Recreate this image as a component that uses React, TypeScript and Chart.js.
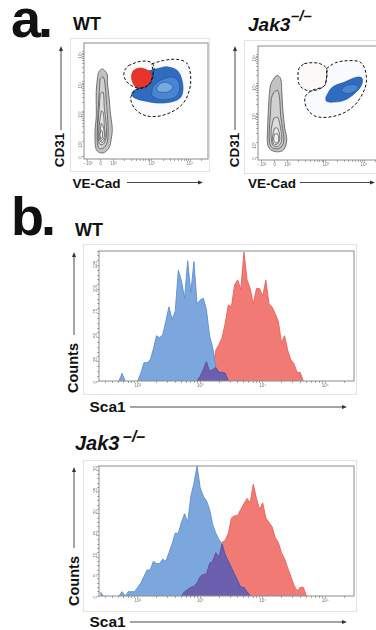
import React, { useEffect, useRef } from 'react';
import { Chart, registerables } from 'chart.js';
Chart.register(...registerables);

const FONT = '"Liberation Sans", Arial, Helvetica, sans-serif';

// ---------- Panel b: Sca1 histograms (log10 Sca1 bin positions) ----------
const sca1Bins = [
  1.40, 1.45, 1.50, 1.55, 1.60, 1.65, 1.70, 1.75, 1.80, 1.85,
  1.90, 1.95, 2.00, 2.05, 2.10, 2.15, 2.20, 2.25, 2.30, 2.35,
  2.40, 2.45, 2.50, 2.55, 2.60, 2.65, 2.70, 2.75, 2.80, 2.85,
  2.90, 2.95, 3.00, 3.05, 3.10, 3.15, 3.20, 3.25, 3.30, 3.35,
  3.40, 3.45, 3.50, 3.55, 3.60, 3.65, 3.70, 3.75, 3.80, 3.85,
  3.90, 3.95, 4.00, 4.05, 4.10, 4.15, 4.20, 4.25, 4.30, 4.35,
  4.40, 4.45, 4.50, 4.55, 4.60, 4.65, 4.70, 4.75,
];
// WT counts
const wtSca1Neg = [
  0, 0, 0, 0, 0, 0, 0, 8, 0, 0,
  0, 0, 0, 8, 19, 19, 22, 33, 47, 45,
  48, 62, 77, 64, 72, 115, 104, 86, 125, 92,
  124, 80, 84, 86, 74, 47, 35, 14, 9, 9,
  8, 0, 0, 0, 0, 0, 0, 0, 0, 0,
  0, 0, 0, 0, 0, 0, 0, 0, 0, 0,
  0, 0, 0, 0, 0, 0, 0, 0,
];
const wtSca1Pos = [
  0, 0, 0, 0, 0, 0, 0, 0, 0, 0,
  0, 0, 0, 0, 0, 0, 0, 0, 0, 0,
  0, 0, 0, 0, 0, 0, 0, 0, 0, 0,
  0, 0, 5, 12, 20, 10, 12, 32, 38, 45,
  60, 79, 77, 100, 105, 95, 134, 105, 96, 80,
  96, 96, 88, 105, 80, 77, 70, 62, 40, 47,
  32, 22, 18, 9, 9, 0, 0, 0,
];
// Jak3-/- counts
const jakSca1Neg = [
  1, 0, 0, 0, 0, 0, 0, 1, 0, 1,
  1, 1, 2, 3, 4.5, 6, 6, 8, 7.5, 7.5,
  8.5, 8, 10, 12, 14.5, 14.5, 17, 19, 17, 23,
  26, 30, 25, 23, 22, 20, 16.5, 14.5, 13, 12,
  9.5, 8, 6.5, 5, 3.5, 2, 2, 1, 0, 0,
  0, 0, 0, 0, 0, 0, 0, 0, 0, 0,
  0, 0, 0, 0, 0, 0, 0, 0,
];
const jakSca1Pos = [
  0, 0, 0, 0, 0, 0, 0, 0, 0, 0,
  0, 0, 0, 0, 0, 0, 0, 0, 0, 0,
  0, 0, 0, 0, 0, 0, 0, 1, 1.5, 2,
  2.2, 3, 4.5, 5, 5, 7.5, 8, 10, 9, 12.4,
  12.8, 14.5, 18, 18.5, 18.6, 20, 21.3, 22.5, 21.5, 25.8,
  22.5, 20, 21.5, 18, 17, 16, 13.5, 12.4, 10, 8.6,
  6.5, 4.5, 2.5, 1.2, 2, 2, 0, 0,
];
const histDecades = [2, 3, 4, 5];
const histDecadeLabels = ['10²', '10³', '10⁴', '10⁵'];
const wtCountTicks = [0, 25, 50, 75, 100, 125];
const jakCountTicks = [0, 5, 10, 15, 20, 25, 30];

// ---------- Panel a: CD31 vs VE-Cad contour plots (display units ~ decades) ----------
const veCadTickValues = [1.33, 1.67, 2, 3, 4];
const veCadTickLabels = ['−10²', '0', '10²', '10³', '10⁴'];
const cd31TickValues = [1.49, 2, 3, 4, 5];
const cd31TickLabels = ['0', '10²', '10³', '10⁴', '10⁵'];

type P = [number, number];
const wtGrayLevels: P[][] = [
  [[1.63,4.36],[1.71,4.43],[1.78,4.36],[1.84,4.23],[1.84,4.02],[1.86,3.75],[1.89,3.41],[1.91,3.07],[1.94,2.74],[1.97,2.40],[1.94,2.06],[1.89,1.79],[1.76,1.62],[1.63,1.62],[1.55,1.72],[1.52,1.99],[1.52,2.40],[1.55,2.80],[1.55,3.24],[1.55,3.68],[1.58,4.09],[1.60,4.26]],
  [[1.65,4.09],[1.73,4.16],[1.78,3.92],[1.81,3.41],[1.84,2.91],[1.86,2.40],[1.84,1.99],[1.76,1.79],[1.63,1.75],[1.58,1.96],[1.58,2.46],[1.60,3.07],[1.63,3.69]],
  [[1.65,3.58],[1.73,3.65],[1.76,3.14],[1.81,2.57],[1.81,2.13],[1.73,1.89],[1.63,1.92],[1.60,2.23],[1.60,2.67],[1.63,3.14]],
  [[1.68,3.01],[1.73,2.97],[1.76,2.53],[1.78,2.13],[1.71,1.96],[1.63,2.06],[1.63,2.53]],
  [[1.68,2.60],[1.73,2.50],[1.76,2.16],[1.68,2.02],[1.65,2.23]],
  [[1.68,2.36],[1.71,2.33],[1.71,2.13],[1.68,2.09],[1.65,2.23]],
];
const wtBlueLevels: P[][] = [
  [[2.82,4.33],[3.21,4.46],[3.40,4.50],[3.68,4.36],[3.81,3.92],[3.78,3.52],[3.60,3.35],[3.21,3.28],[2.82,3.35],[2.53,3.47],[2.48,3.62],[2.64,3.79],[2.80,3.89],[2.88,4.09]],
  [[3.00,3.53],[3.04,3.84],[3.30,4.09],[3.56,4.15],[3.71,3.98],[3.69,3.58],[3.47,3.41],[3.17,3.41]],
  [[3.13,3.78],[3.20,3.92],[3.36,3.98],[3.51,3.90],[3.55,3.80],[3.45,3.67],[3.28,3.64],[3.16,3.68]],
];
const wtRedBlob: P[] = [[2.51,4.36],[2.64,4.45],[2.82,4.43],[2.95,4.33],[3.01,4.16],[2.95,3.96],[2.85,3.82],[2.69,3.79],[2.56,3.85],[2.49,4.02],[2.47,4.19]];
const wtGateRed: P[] = [[2.39,4.54],[2.69,4.68],[2.97,4.66],[3.06,4.49],[3.02,4.20],[2.94,3.92],[2.74,3.78],[2.48,3.86],[2.30,4.09],[2.28,4.34]];
const wtGateBlue: P[] = [[3.00,4.60],[3.30,4.71],[3.65,4.75],[3.91,4.63],[4.01,4.26],[3.99,3.75],[3.80,3.24],[3.39,2.91],[2.95,2.83],[2.61,3.02],[2.45,3.41],[2.56,3.70],[2.78,3.81],[2.94,3.92],[3.04,4.20]];

const jakGrayLevels: P[][] = [
  [[1.61,4.12],[1.72,4.29],[1.82,4.19],[1.85,3.78],[1.88,3.10],[1.93,2.49],[1.98,2.08],[1.90,1.75],[1.74,1.68],[1.56,1.75],[1.48,1.95],[1.48,2.42],[1.50,3.10],[1.53,3.71],[1.56,3.98]],
  [[1.64,3.71],[1.74,3.78],[1.80,3.44],[1.82,2.93],[1.88,2.42],[1.90,2.02],[1.80,1.81],[1.61,1.81],[1.53,2.02],[1.53,2.49],[1.56,3.10],[1.58,3.51]],
  [[1.64,2.83],[1.74,2.86],[1.82,2.49],[1.85,2.08],[1.77,1.88],[1.64,1.88],[1.58,2.08],[1.58,2.49]],
  [[1.66,2.49],[1.74,2.49],[1.80,2.15],[1.74,1.95],[1.64,1.95],[1.61,2.19]],
  [[1.66,2.29],[1.74,2.29],[1.77,2.08],[1.72,1.98],[1.66,2.02],[1.64,2.12]],
];
const jakBlueLevels: P[][] = [
  [[3.00,3.55],[3.17,3.89],[3.48,4.06],[3.80,4.23],[3.95,4.20],[3.93,3.95],[3.75,3.67],[3.48,3.44],[3.22,3.38],[3.02,3.41]],
  [[3.40,3.78],[3.50,3.92],[3.68,3.98],[3.82,3.95],[3.84,3.85],[3.72,3.72],[3.52,3.68]],
];
const jakGateRed: P[] = [[2.44,4.70],[2.65,4.73],[2.86,4.69],[3.02,4.53],[3.02,4.19],[2.95,3.92],[2.60,3.76],[2.35,3.90],[2.28,4.12],[2.30,4.53]];
const jakGateBlue: P[] = [[3.02,4.53],[3.26,4.73],[3.66,4.80],[3.93,4.72],[4.06,4.29],[4.02,3.84],[3.75,3.27],[3.31,2.93],[2.77,2.88],[2.51,3.16],[2.46,3.55],[2.64,3.78],[2.95,3.92],[3.02,4.19]];

// ---------- colours ----------
const GRAY_FILLS = ['#c2c2c2', '#d0d0d0', '#dcdcdc', '#e7e7e7', '#f1f1f1', '#fafafa'];
const BLUE_FILLS = ['#2f6cc0', '#4a86d0', '#78a8e0'];
const HIST_BLUE = '#7ca7dc';
const HIST_RED = '#f17b74';
const HIST_PURPLE = '#6c5fae';

// ---------- helpers ----------
function logMinors(from: number, to: number): number[] {
  const out: number[] = [];
  for (let d = Math.floor(from); d <= to; d++) {
    for (let k = 2; k <= 9; k++) {
      const v = d + Math.log10(k);
      if (v > from && v < to) out.push(v);
    }
  }
  return out;
}

function labelFor(values: number[], labels: string[]) {
  return (v: number) => {
    const i = values.findIndex((m) => Math.abs(m - v) < 1e-6);
    return i >= 0 ? labels[i] : '';
  };
}

const framePlugin = {
  id: 'frame',
  afterDatasetsDraw(chart: any) {
    const { ctx, chartArea: a } = chart;
    ctx.save();
    ctx.strokeStyle = '#8c8c8c';
    ctx.lineWidth = 1;
    ctx.strokeRect(a.left, a.top, a.right - a.left, a.bottom - a.top);
    ctx.restore();
  },
};

function polyDataset(points: P[], fill: string | null, stroke: string | null, width: number, dash: number[] = []) {
  const data = points.map(([x, y]) => ({ x, y }));
  data.push({ x: points[0][0], y: points[0][1] });
  return {
    type: 'line',
    data,
    showLine: true,
    fill: fill ? 'shape' : false,
    backgroundColor: fill || 'transparent',
    borderColor: stroke || 'transparent',
    borderWidth: stroke ? width : 0,
    borderDash: dash,
    pointRadius: 0,
    tension: 0.35,
  };
}

function axisCommon(size = 4.5) {
  return {
    font: { size, family: FONT },
    color: '#777',
    autoSkip: false,
  };
}

function contourConfig(gray: P[][], blue: P[][], red: P[] | null, gateRed: P[], gateBlue: P[], pad: any, xH: number) {
  const layers: any[] = [];
  layers.push(polyDataset(gateBlue, 'rgba(175,200,238,0.08)', null, 0));
  layers.push(polyDataset(gateRed, 'rgba(240,175,175,0.07)', null, 0));
  gray.forEach((lv, i) => layers.push(polyDataset(lv, GRAY_FILLS[i], '#555', 0.8)));
  blue.forEach((lv, i) => layers.push(polyDataset(lv, BLUE_FILLS[i], '#1f4f98', 0.6)));
  if (red) layers.push(polyDataset(red, '#e8342b', '#c0281f', 0.6));
  layers.push(polyDataset(gateRed, null, '#111', 1, [3, 2]));
  layers.push(polyDataset(gateBlue, null, '#111', 1, [3, 2]));
  const datasets = layers.reverse();
  const xMinors = logMinors(2, 4.47);
  const yMinors = logMinors(2, 5.3);
  return {
    type: 'scatter',
    data: { datasets },
    plugins: [framePlugin],
    options: {
      responsive: false,
      animation: false,
      events: [],
      layout: { padding: pad },
      plugins: { legend: { display: false }, tooltip: { enabled: false } },
      scales: {
        x: {
          type: 'linear', min: 1.23, max: 4.47,
          afterBuildTicks: (s: any) => { s.ticks = [...veCadTickValues, ...xMinors].sort((a, b) => a - b).map((value) => ({ value })); },
          afterFit: (s: any) => { s.height = xH; },
          ticks: { ...axisCommon(4.5), maxRotation: 0, minRotation: 0, padding: 0, callback: labelFor(veCadTickValues, veCadTickLabels) },
          grid: { drawOnChartArea: false, drawTicks: true, tickLength: 2, color: '#888', lineWidth: 0.7 },
          border: { display: false },
        },
        y: {
          type: 'linear', min: 1.40, max: 5.30,
          afterBuildTicks: (s: any) => { s.ticks = [...cd31TickValues, ...yMinors].sort((a, b) => a - b).map((value) => ({ value })); },
          afterFit: (s: any) => { s.width = 14; },
          ticks: { ...axisCommon(4.5), minRotation: 90, maxRotation: 90, padding: 1, callback: labelFor(cd31TickValues, cd31TickLabels) },
          grid: { drawOnChartArea: false, drawTicks: true, tickLength: 2, color: '#888', lineWidth: 0.7 },
          border: { display: false },
        },
      },
    },
  };
}

function histConfig(neg: number[], pos: number[], yMax: number, yMajor: number[], yMinorStep: number, pad: any, xH: number) {
  const toXY = (arr: number[]) => arr.map((y, i) => ({ x: sca1Bins[i], y }));
  const overlap = neg.map((v, i) => Math.min(v, pos[i]));
  const hideZero = { borderColor: (c: any) => (c.p0.parsed.y === 0 && c.p1.parsed.y === 0 ? 'transparent' : undefined) };
  const ds = (arr: number[], fill: string, line: string) => ({
    data: toXY(arr), fill: 'origin', backgroundColor: fill, borderColor: line, borderWidth: 0.9,
    pointRadius: 0, tension: 0, segment: hideZero,
  });
  const yTicks: number[] = [];
  for (let v = 0; v <= yMax + 1e-9; v += yMinorStep) yTicks.push(v);
  const xMinors = logMinors(1.381, 5.461);
  return {
    type: 'line',
    data: {
      datasets: [
        ds(overlap, HIST_PURPLE, '#5a4e9e'),
        ds(neg, HIST_BLUE, '#5d8fd0'),
        ds(pos, HIST_RED, '#ea5f58'),
      ],
    },
    plugins: [framePlugin],
    options: {
      responsive: false,
      animation: false,
      events: [],
      layout: { padding: pad },
      plugins: { legend: { display: false }, tooltip: { enabled: false } },
      scales: {
        x: {
          type: 'linear', min: 1.381, max: 5.461,
          afterBuildTicks: (s: any) => { s.ticks = [...histDecades, ...xMinors].sort((a, b) => a - b).map((value) => ({ value })); },
          afterFit: (s: any) => { s.height = xH; },
          ticks: { ...axisCommon(4.5), maxRotation: 0, minRotation: 0, padding: 0, callback: labelFor(histDecades, histDecadeLabels) },
          grid: { drawOnChartArea: false, drawTicks: true, tickLength: 2, color: '#888', lineWidth: 0.7 },
          border: { display: false },
        },
        y: {
          type: 'linear', min: 0, max: yMax,
          afterBuildTicks: (s: any) => { s.ticks = yTicks.map((value) => ({ value })); },
          afterFit: (s: any) => { s.width = 16; },
          ticks: { ...axisCommon(4.5), minRotation: 90, maxRotation: 90, padding: 1, callback: labelFor(yMajor, yMajor.map(String)) },
          grid: { drawOnChartArea: false, drawTicks: true, tickLength: 2, color: '#888', lineWidth: 0.7 },
          border: { display: false },
        },
      },
    },
  };
}

function ChartBox({ left, top, width, height, make }: { left: number; top: number; width: number; height: number; make: () => any }) {
  const ref = useRef<HTMLCanvasElement>(null);
  useEffect(() => {
    const chart = new Chart(ref.current as HTMLCanvasElement, make());
    return () => chart.destroy();
  }, []);
  return (
    <>
      <div style={{ position: 'absolute', left, top, width, height, boxSizing: 'border-box', border: '1px solid #e2e2e2' }} />
      <canvas ref={ref} width={width} height={height} style={{ position: 'absolute', left, top, width, height }} />
    </>
  );
}

function Txt({ x, base, size, children, italic, weight = 700 }: any) {
  return (
    <div style={{ position: 'absolute', left: x, top: base - 0.8465 * size, fontFamily: FONT, fontSize: size, lineHeight: 1, fontWeight: weight, fontStyle: italic ? 'italic' : 'normal', whiteSpace: 'nowrap', color: '#111' }}>
      {children}
    </div>
  );
}

function VTxt({ cx, cy, size, children }: any) {
  return (
    <div style={{ position: 'absolute', left: cx, top: cy, transform: 'translate(-50%,-50%) rotate(-90deg)', fontFamily: FONT, fontSize: size, lineHeight: 1, fontWeight: 700, whiteSpace: 'nowrap', color: '#111' }}>
      {children}
    </div>
  );
}

function Arrow({ x1, y1, x2, y2 }: { x1: number; y1: number; x2: number; y2: number }) {
  const dx = x2 - x1, dy = y2 - y1;
  const len = Math.hypot(dx, dy);
  const ux = dx / len, uy = dy / len;
  const L = 5, W = 2;
  const bx = x2 - ux * L, by = y2 - uy * L;
  const pts = `${x2},${y2} ${bx - uy * W},${by + ux * W} ${bx + uy * W},${by - ux * W}`;
  return (
    <g>
      <line x1={x1} y1={y1} x2={bx} y2={by} stroke="#333" strokeWidth={0.9} />
      <polygon points={pts} fill="#333" />
    </g>
  );
}

export default function App() {
  return (
    <div style={{ position: 'absolute', left: 0, top: 0, width: 376, height: 630, overflow: 'hidden', background: '#fff' }}>
      {/* panel labels */}
      <Txt x={11} base={37} size={54}><span style={{ letterSpacing: -3 }}>a.</span></Txt>
      <Txt x={11} base={235} size={54}><span style={{ letterSpacing: -3 }}>b.</span></Txt>
      <Txt x={73} base={30} size={18}>WT</Txt>
      <Txt x={248} base={31} size={19} italic>Jak3</Txt>
      <Txt x={291} base={21} size={15} italic>–/–</Txt>
      <Txt x={75} base={236} size={18}>WT</Txt>
      <Txt x={75} base={450} size={20} italic>Jak3</Txt>
      <Txt x={123} base={443} size={16} italic>–/–</Txt>

      {/* panel a */}
      <ChartBox left={70} top={38} width={140} height={134} make={() => contourConfig(wtGrayLevels, wtBlueLevels, wtRedBlob, wtGateRed, wtGateBlue, { top: 5, right: 2, left: 0, bottom: 0 }, 13)} />
      <ChartBox left={244} top={40} width={140} height={134} make={() => contourConfig(jakGrayLevels, jakBlueLevels, null, jakGateRed, jakGateBlue, { top: 6, right: 2, left: 0, bottom: 0 }, 14)} />

      {/* panel b */}
      <ChartBox left={83} top={244} width={274} height={151} make={() => histConfig(wtSca1Neg, wtSca1Pos, 135, wtCountTicks, 5, { top: 7, right: 3, left: 0, bottom: 0 }, 14)} />
      <ChartBox left={83} top={460} width={274} height={152} make={() => histConfig(jakSca1Neg, jakSca1Pos, 30, jakCountTicks, 1, { top: 6, right: 3, left: 0, bottom: 0 }, 16)} />

      {/* axis titles */}
      <VTxt cx={60} cy={150} size={13.5}>CD31</VTxt>
      <VTxt cx={234.5} cy={150} size={13.5}>CD31</VTxt>
      <Txt x={72.5} base={188} size={13.5}>VE-Cad</Txt>
      <Txt x={248} base={188} size={13.5}>VE-Cad</Txt>
      <VTxt cx={73} cy={367.5} size={14.5}>Counts</VTxt>
      <VTxt cx={73.5} cy={581} size={14.5}>Counts</VTxt>
      <Txt x={89.5} base={412} size={15.5}>Sca1</Txt>
      <Txt x={89.5} base={627} size={15.5}>Sca1</Txt>

      <svg width={376} height={630} style={{ position: 'absolute', left: 0, top: 0, pointerEvents: 'none' }}>
        <Arrow x1={61} y1={130} x2={61} y2={46} />
        <Arrow x1={235} y1={130} x2={235} y2={46} />
        <Arrow x1={127} y1={182.5} x2={203} y2={182.5} />
        <Arrow x1={300} y1={182.5} x2={375} y2={182.5} />
        <Arrow x1={74} y1={335} x2={74} y2={252} />
        <Arrow x1={74} y1={548} x2={74} y2={467} />
        <Arrow x1={130} y1={407} x2={347} y2={407} />
        <Arrow x1={130} y1={622} x2={347} y2={622} />
      </svg>
    </div>
  );
}
